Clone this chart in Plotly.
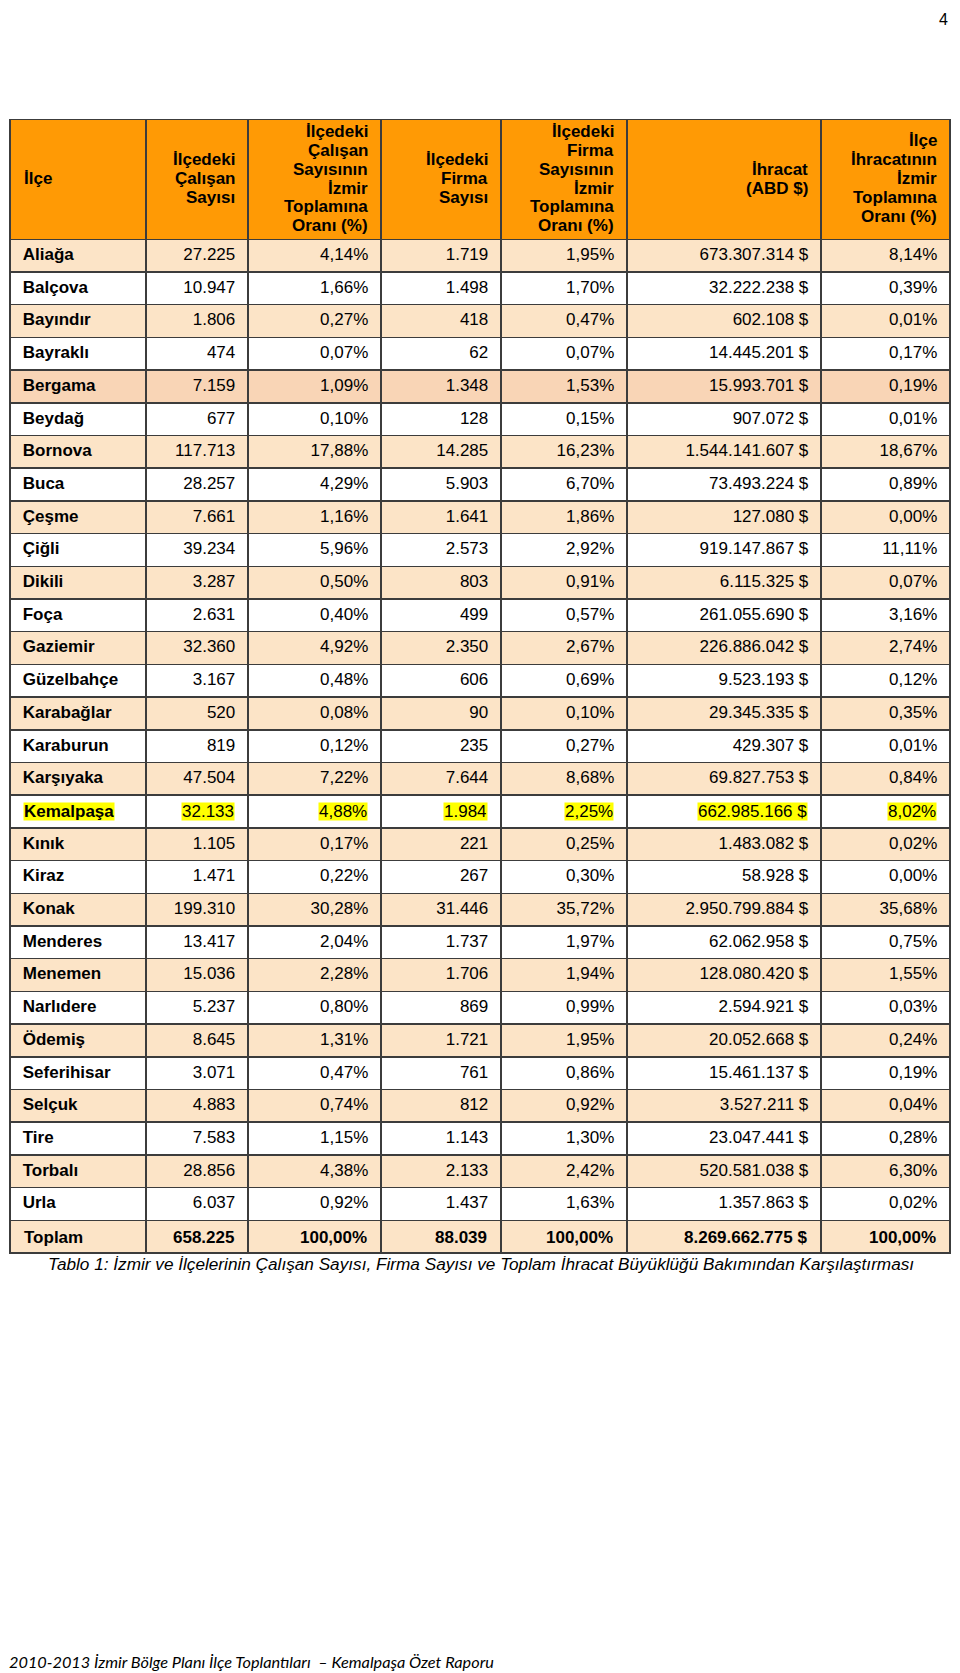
import plotly.graph_objects as go

# ---------------- data ----------------
districts = ["Aliağa", "Balçova", "Bayındır", "Bayraklı", "Bergama", "Beydağ", "Bornova", "Buca",
             "Çeşme", "Çiğli", "Dikili", "Foça", "Gaziemir", "Güzelbahçe", "Karabağlar", "Karaburun",
             "Karşıyaka", "Kemalpaşa", "Kınık", "Kiraz", "Konak", "Menderes", "Menemen", "Narlıdere",
             "Ödemiş", "Seferihisar", "Selçuk", "Tire", "Torbalı", "Urla"]
calisan = [27225, 10947, 1806, 474, 7159, 677, 117713, 28257, 7661, 39234, 3287, 2631, 32360, 3167,
           520, 819, 47504, 32133, 1105, 1471, 199310, 13417, 15036, 5237, 8645, 3071, 4883, 7583,
           28856, 6037]
calisan_oran = [4.14, 1.66, 0.27, 0.07, 1.09, 0.10, 17.88, 4.29, 1.16, 5.96, 0.50, 0.40, 4.92, 0.48,
                0.08, 0.12, 7.22, 4.88, 0.17, 0.22, 30.28, 2.04, 2.28, 0.80, 1.31, 0.47, 0.74, 1.15,
                4.38, 0.92]
firma = [1719, 1498, 418, 62, 1348, 128, 14285, 5903, 1641, 2573, 803, 499, 2350, 606, 90, 235, 7644,
         1984, 221, 267, 31446, 1737, 1706, 869, 1721, 761, 812, 1143, 2133, 1437]
firma_oran = [1.95, 1.70, 0.47, 0.07, 1.53, 0.15, 16.23, 6.70, 1.86, 2.92, 0.91, 0.57, 2.67, 0.69,
              0.10, 0.27, 8.68, 2.25, 0.25, 0.30, 35.72, 1.97, 1.94, 0.99, 1.95, 0.86, 0.92, 1.30,
              2.42, 1.63]
ihracat = [673307314, 32222238, 602108, 14445201, 15993701, 907072, 1544141607, 73493224, 127080,
           919147867, 6115325, 261055690, 226886042, 9523193, 29345335, 429307, 69827753, 662985166,
           1483082, 58928, 2950799884, 62062958, 128080420, 2594921, 20052668, 15461137, 3527211,
           23047441, 520581038, 1357863]
ihracat_oran = [8.14, 0.39, 0.01, 0.17, 0.19, 0.01, 18.67, 0.89, 0.00, 11.11, 0.07, 3.16, 2.74, 0.12,
                0.35, 0.01, 0.84, 8.02, 0.02, 0.00, 35.68, 0.75, 1.55, 0.03, 0.24, 0.19, 0.04, 0.28,
                6.30, 0.02]
total_label = "Toplam"
total_values = [658225, 100.00, 88039, 100.00, 8269662775, 100.00]

headers = [
    ["İlçe"],
    ["İlçedeki", "Çalışan", "Sayısı"],
    ["İlçedeki", "Çalışan", "Sayısının", "İzmir", "Toplamına", "Oranı (%)"],
    ["İlçedeki", "Firma", "Sayısı"],
    ["İlçedeki", "Firma", "Sayısının", "İzmir", "Toplamına", "Oranı (%)"],
    ["İhracat", "(ABD $)"],
    ["İlçe", "İhracatının", "İzmir", "Toplamına", "Oranı (%)"],
]
highlight_district = "Kemalpaşa"
darker_district = "Bergama"
caption = "Tablo 1: İzmir ve İlçelerinin Çalışan Sayısı, Firma Sayısı ve Toplam İhracat Büyüklüğü Bakımından Karşılaştırması"
footer = "2010-2013 İzmir Bölge Planı İlçe Toplantıları  – Kemalpaşa Özet Raporu"
page_no = "4"

# ---------------- styling ----------------
OFF = 8                      # page body margin of the html page
W, H = 960 - OFF, 1673 - OFF
col_w = [136, 102, 133, 120, 126, 194, 129]
TABLE_LEFT, TABLE_TOP = 10 - OFF, 119.3 - OFF
HEADER_H, ROW_H = 120, 32.7
FONT = "Liberation Sans, Arial, sans-serif"
FS = 17
ORANGE = "#FF9A05"
PEACH = "#FCE4C7"
PEACH_DARK = "#F9D5B6"
WHITE = "#FFFFFF"
LINE = "#3C3C3C"
NB = "\u00a0"


def fnum(v):
    return f"{v:,}".replace(",", ".")


def fpct(v):
    return f"{v:.2f}".replace(".", ",") + "%"


def fusd(v):
    return fnum(v) + NB + "$"


raw_cols = [
    districts + [total_label],
    [fnum(v) for v in calisan + [total_values[0]]],
    [fpct(v) for v in calisan_oran + [total_values[1]]],
    [fnum(v) for v in firma + [total_values[2]]],
    [fpct(v) for v in firma_oran + [total_values[3]]],
    [fusd(v) for v in ihracat + [total_values[4]]],
    [fpct(v) for v in ihracat_oran + [total_values[5]]],
]
n_rows = len(districts) + 1
hi = districts.index(highlight_district)
tot = n_rows - 1
overlay_rows = [hi, tot]   # these rows are written as annotations (highlight / bold)

cols_fmt = []
for c, col in enumerate(raw_cols):
    out = []
    for i, t in enumerate(col):
        if i in overlay_rows:
            out.append("")
        else:
            out.append(NB + t if c == 0 else t + NB)
    cols_fmt.append(out)

row_fill = []
for i in range(n_rows):
    if i < len(districts) and districts[i] == darker_district:
        row_fill.append(PEACH_DARK)
    else:
        row_fill.append(PEACH if i % 2 == 0 else WHITE)
fills = [row_fill[:] for _ in col_w]
font_weights = ["bold"] + ["normal"] * (len(col_w) - 1)

table_bottom = TABLE_TOP + HEADER_H + ROW_H * n_rows

fig = go.Figure(go.Table(
    domain=dict(x=[TABLE_LEFT / W, (TABLE_LEFT + sum(col_w)) / W],
                y=[1 - (table_bottom + 30) / H, 1 - TABLE_TOP / H]),
    columnwidth=col_w,
    header=dict(values=[""] * len(col_w), height=HEADER_H, fill_color=ORANGE,
                line=dict(color=LINE, width=1.5)),
    cells=dict(values=cols_fmt, height=ROW_H, fill_color=fills,
               align=["left"] + ["right"] * 6,
               font=dict(family=FONT, size=FS, color="black", weight=font_weights),
               line=dict(color=LINE, width=1.5)),
))

annotations = []
edges = [TABLE_LEFT]
for w in col_w:
    edges.append(edges[-1] + w)

# header labels, one annotation per line for tight leading
head_mid_base = TABLE_TOP + HEADER_H / 2 + 5.2
PITCH = 18.9
for c, lines in enumerate(headers):
    n = len(lines)
    for k, t in enumerate(lines):
        base = head_mid_base + (k - (n - 1) / 2) * PITCH
        yc = base - 0.3465 * FS
        if c == 0:
            x, xa, al = edges[0] + 12.5, "left", "left"
        else:
            x, xa, al = edges[c + 1] - 12.5, "right", "right"
        annotations.append(dict(text=f"<b>{t}</b>", x=x / W, y=1 - yc / H, xref="paper", yref="paper",
                                xanchor=xa, yanchor="middle", align=al, showarrow=False,
                                font=dict(family=FONT, size=FS, color="black"), borderpad=0))

# highlighted row (yellow text background) and bold total row
for r in overlay_rows:
    row_top = TABLE_TOP + HEADER_H + r * ROW_H
    yc = row_top + ROW_H / 2 + 0.4
    for c in range(len(col_w)):
        raw = raw_cols[c][r]
        bold = (c == 0) or (r == tot)
        txt = f"<b>{raw}</b>" if bold else raw
        if c == 0:
            x, xa = edges[0] + 12.7, "left"
        else:
            x, xa = edges[c + 1] - 12.7, "right"
        ann = dict(text=txt, x=x / W, y=1 - yc / H, xref="paper", yref="paper",
                   xanchor=xa, yanchor="middle", showarrow=False, borderpad=0,
                   font=dict(family=FONT, size=FS, color="black"))
        if r == hi:
            ann.update(bgcolor="#FFFF00", height=17, valign="middle")
        annotations.append(ann)

# caption
annotations.append(dict(text=f"<i>{caption}</i>", x=(481 - OFF) / W, y=1 - (1264 - OFF) / H,
                        xref="paper", yref="paper", xanchor="center", yanchor="middle",
                        showarrow=False, font=dict(family=FONT, size=17.2, color="black")))
# footer
annotations.append(dict(text=f"<i>{footer}</i>", x=0, y=1 - (1661 - OFF) / H, xref="paper", yref="paper",
                        xanchor="left", yanchor="middle", showarrow=False, borderpad=0,
                        font=dict(family="Lato, Open Sans, sans-serif", size=16.3, color="black")))
# page number (kept inside the visible page)
annotations.append(dict(text=page_no, x=(950 - OFF) / W, y=1 - 11 / H, xref="paper", yref="paper",
                        xanchor="right", yanchor="middle", showarrow=False, borderpad=1,
                        font=dict(family=FONT, size=16, color="black")))

fig.update_layout(width=W, height=H, margin=dict(l=0, r=0, t=0, b=0),
                  paper_bgcolor="white", plot_bgcolor="white", annotations=annotations)

fig.write_html("out.html")
